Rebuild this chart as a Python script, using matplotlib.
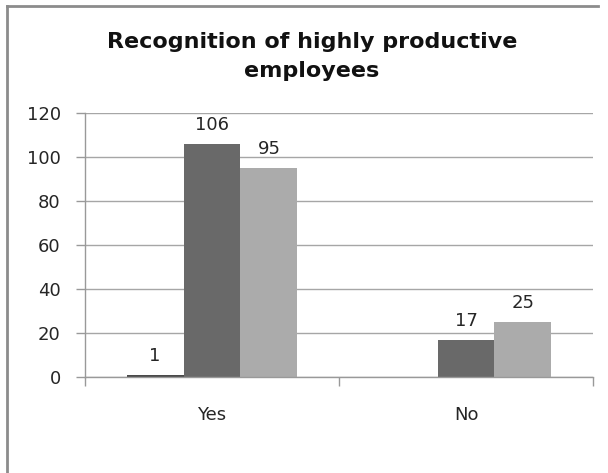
import numpy as np
import matplotlib.pyplot as plt
from matplotlib.lines import Line2D

categories = ["Yes", "No"]
series_a = [1, np.nan]
series_b = [106, 17]
series_c = [95, 25]
y_ticks = [0, 20, 40, 60, 80, 100, 120]

colors = ["#4a4a4a", "#696969", "#ababab"]

plt.rcParams['font.family'] = ['DejaVu Sans']

fig = plt.figure(figsize=(6.08, 4.73), dpi=100)
ax = fig.add_axes([85 / 608, 1 - 377 / 473, (593 - 85) / 608, (377 - 113) / 473])

x = np.arange(len(categories))
w = 0.224

for i, vals in enumerate([series_a, series_b, series_c]):
    bars = ax.bar(x + (i - 1) * w, vals, width=w, color=colors[i], zorder=3)
    for xi, v in zip(x + (i - 1) * w, vals):
        if np.isnan(v):
            continue
        ax.annotate(str(int(v)), (xi, v), xytext=(0, 7), textcoords="offset points",
                    ha="center", va="bottom", fontsize=13, color="#262626")

ax.set_xlim(-0.5, 1.5)
ax.set_ylim(0, 120)
ax.set_yticks(y_ticks)
ax.set_yticklabels([str(t) for t in y_ticks], fontsize=13, color="#262626")
ax.tick_params(axis="y", direction="out", length=6.5, width=1, color="#999999", pad=11)

# category labels in the middle, tick marks on the boundaries
ax.set_xticks(x)
ax.set_xticklabels(categories, fontsize=13, color="#262626")
ax.set_xticks([-0.5, 0.5, 1.5], minor=True)
ax.tick_params(axis="x", which="major", length=0, pad=21)
ax.tick_params(axis="x", which="minor", direction="out", length=6.5, width=1, color="#999999")

ax.grid(axis="y", color="#a6a6a6", linewidth=1, zorder=0)
ax.set_axisbelow(True)
for side in ["top", "right"]:
    ax.spines[side].set_visible(False)
for side in ["left", "bottom"]:
    ax.spines[side].set_color("#999999")
    ax.spines[side].set_linewidth(1)
    ax.spines[side].set_zorder(4)

fig.text(312 / 608, 1 - 56.5 / 473, "Recognition of highly productive\nemployees",
         ha="center", va="center", fontsize=16, fontweight="bold", color="#111111",
         linespacing=1.6)

# chart frame
fig.add_artist(Line2D([7 / 608, 7 / 608], [0, 1 - 6 / 473], color="#8c8c8c", linewidth=2))
fig.add_artist(Line2D([7 / 608, 598 / 608], [1 - 6 / 473, 1 - 6 / 473], color="#8c8c8c", linewidth=2))

fig.savefig("out.png", dpi=100)
